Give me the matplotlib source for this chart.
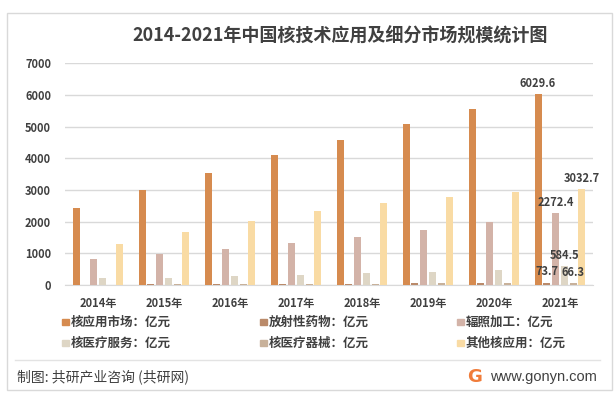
import numpy as np
import matplotlib
matplotlib.use("Agg")
import matplotlib.pyplot as plt
from matplotlib.patches import Rectangle

plt.rcParams['font.family'] = ['Noto Sans CJK SC', 'DejaVu Sans']

years = ['2014年', '2015年', '2016年', '2017年', '2018年', '2019年', '2020年', '2021年']
series_names = ['核应用市场：亿元', '放射性药物：亿元', '辐照加工：亿元',
                '核医疗服务：亿元', '核医疗器械：亿元', '其他核应用：亿元']

core_market = [2430, 3000, 3530, 4090, 4590, 5090, 5570, 6029.6]
radio_drugs = [0, 33, 37, 41, 46, 52, 60, 73.7]
irradiation = [820, 990, 1140, 1330, 1520, 1750, 2000, 2272.4]
med_service = [220, 225, 295, 325, 390, 420, 485, 584.5]
med_device = [0, 30, 34, 38, 43, 48, 55, 66.3]
other_apps = [1290, 1670, 2020, 2335, 2585, 2790, 2950, 3032.7]

colors = ['#D68B4F', '#BA8A6A', '#D3B3A8', '#DED6C5', '#C8B19A', '#F9DBA4']
all_series = [core_market, radio_drugs, irradiation, med_service, med_device, other_apps]

fig = plt.figure(figsize=(6.15, 3.99), dpi=100)
W, H = 615.0, 399.0

# outer frame
fig.patches.append(Rectangle((7 / W, 1 - 390 / H), 605 / W, 377 / H, transform=fig.transFigure,
                             fill=False, edgecolor='#d9d9d9', linewidth=1.0))

ax = fig.add_axes([65 / W, 1 - 285 / H, 528 / W, (285 - 63.3) / H])
ax.patch.set_alpha(0)

x = np.arange(len(years))
step = 0.1333
width = 0.106
bars = []
for i, (vals, col) in enumerate(zip(all_series, colors)):
    b = ax.bar(x + (i - 2.5) * step, vals, width=width, color=col, zorder=3)
    bars.append(b)

# only the 2021 values are labelled
for b, vals in zip(bars, all_series):
    labels = [''] * (len(vals) - 1) + ['%.1f' % vals[-1]]
    ax.bar_label(b, labels=labels, padding=3, fontsize=8, fontweight='bold', color='#404040')

ax.set_ylim(0, 7000)
ax.set_xlim(-0.5, 7.5)
ax.set_yticks(range(0, 7001, 1000))
ax.set_xticks(x)
ax.set_xticklabels(years)
ax.yaxis.grid(True, color='#d9d9d9', linewidth=1.0, zorder=0)
ax.set_axisbelow(True)
for s in ['top', 'right', 'left']:
    ax.spines[s].set_visible(False)
ax.spines['bottom'].set_color('#d9d9d9')
ax.tick_params(axis='both', length=0, labelsize=8, labelcolor='#404040')
ax.tick_params(axis='y', pad=10)
ax.tick_params(axis='x', pad=9)
for lab in ax.get_xticklabels() + ax.get_yticklabels():
    lab.set_fontweight('bold')

fig.text(340 / W, 1 - 36 / H, '2014-2021年中国核技术应用及细分市场规模统计图', fontsize=13,
         fontweight='bold', color='#404040', ha='center', va='center')

# legend
leg_x = [62, 260, 457]
leg_y = [322, 343]
for i, name in enumerate(series_names):
    lx = leg_x[i % 3]
    ly = leg_y[i // 3]
    fig.patches.append(Rectangle((lx / W, 1 - (ly + 3) / H), 6.5 / W, 6.5 / H,
                                 transform=fig.transFigure, color=colors[i]))
    fig.text((lx + 9) / W, 1 - ly / H, name, fontsize=9, fontweight='bold',
             color='#404040', ha='left', va='center')

fig.lines.append(plt.Line2D([15 / W, 600 / W], [1 - 360 / H, 1 - 360 / H],
                            transform=fig.transFigure, color='#e3e3e3', linewidth=1.0))

fig.text(17 / W, 1 - 377 / H, '制图: 共研产业咨询 (共研网)', fontsize=10, color='#404040',
         ha='left', va='center')
fig.text(475 / W, 1 - 377 / H, 'G', fontsize=13, fontweight='bold', color='#F07C3A',
         ha='center', va='center', family='DejaVu Sans')
fig.text(490 / W, 1 - 377 / H, 'www.gonyn.com', fontsize=10.5, color='#404040',
         ha='left', va='center', family='Liberation Sans')

fig.savefig('out.png', dpi=100)
